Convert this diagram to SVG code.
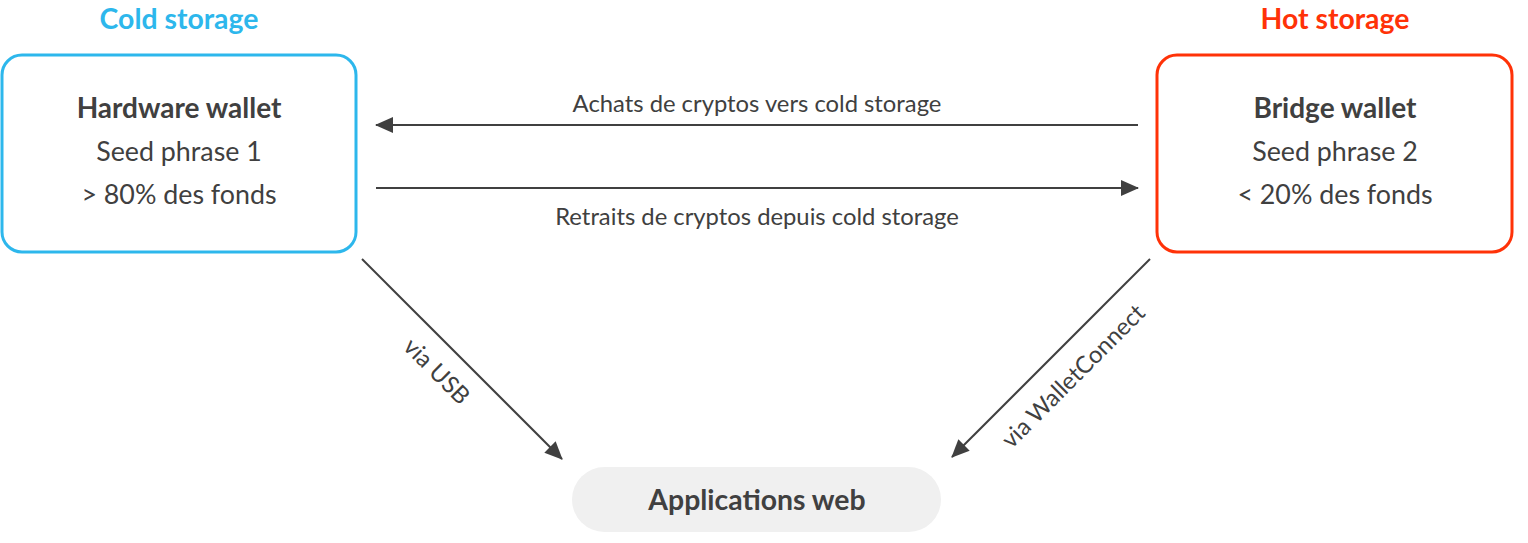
<svg xmlns="http://www.w3.org/2000/svg" width="1528" height="543" viewBox="0 0 1528 543">
<style>
text{font-family:Lato,"Liberation Sans",sans-serif;fill:#404040;text-anchor:middle}
.title{font-size:28.4px;font-weight:bold}
.head{font-size:28px;font-weight:bold}
.body{font-size:26.8px}
.lbl{font-size:23.8px}
.conn{stroke:#404040;stroke-width:2;fill:none}
</style>
<defs>
<marker id="ahb" viewBox="0 0 18 16" refX="17" refY="8" markerWidth="18" markerHeight="16" markerUnits="userSpaceOnUse" orient="auto">
<path d="M0,0 L18,8 L0,16 z" fill="#404040"/>
</marker>
</defs>
<g id="cold-title"><text class="title" x="179" y="29" style="fill:#2db7ec">Cold storage</text></g>
<g id="hot-title"><text class="title" x="1335" y="29" style="fill:#ff3208">Hot storage</text></g>
<g id="hardware-wallet">
<rect x="2" y="55" width="354" height="197" rx="20" fill="#fff" stroke="#2db7ec" stroke-width="3"/>
<text class="head" x="179" y="118">Hardware wallet</text>
<text class="body" x="179" y="161">Seed phrase 1</text>
<text class="body" x="179" y="204">&gt; 80% des fonds</text>
</g>
<g id="bridge-wallet">
<rect x="1157" y="55" width="355" height="197" rx="20" fill="#fff" stroke="#ff3208" stroke-width="3"/>
<text class="head" x="1335" y="118">Bridge wallet</text>
<text class="body" x="1335" y="161">Seed phrase 2</text>
<text class="body" x="1335" y="204">&lt; 20% des fonds</text>
</g>
<g id="applications-web">
<rect x="572" y="467" width="369" height="65" rx="32.5" fill="#f0f0f0"/>
<text class="title" x="757" y="510">Applications web</text>
</g>
<g id="connectors">
<line class="conn" x1="1138" y1="125" x2="376" y2="125" marker-end="url(#ahb)"/>
<line class="conn" x1="376" y1="188" x2="1138" y2="188" marker-end="url(#ahb)"/>
<line class="conn" x1="362" y1="259" x2="562" y2="459" marker-end="url(#ahb)"/>
<line class="conn" x1="1150" y1="259" x2="952" y2="457" marker-end="url(#ahb)"/>
<text class="lbl" x="757" y="112">Achats de cryptos vers cold storage</text>
<text class="lbl" x="757" y="225">Retraits de cryptos depuis cold storage</text>
<text class="lbl" transform="translate(431,377) rotate(45)">via USB</text>
<text class="lbl" transform="translate(1079,382) rotate(-45)">via WalletConnect</text>
</g>
</svg>
